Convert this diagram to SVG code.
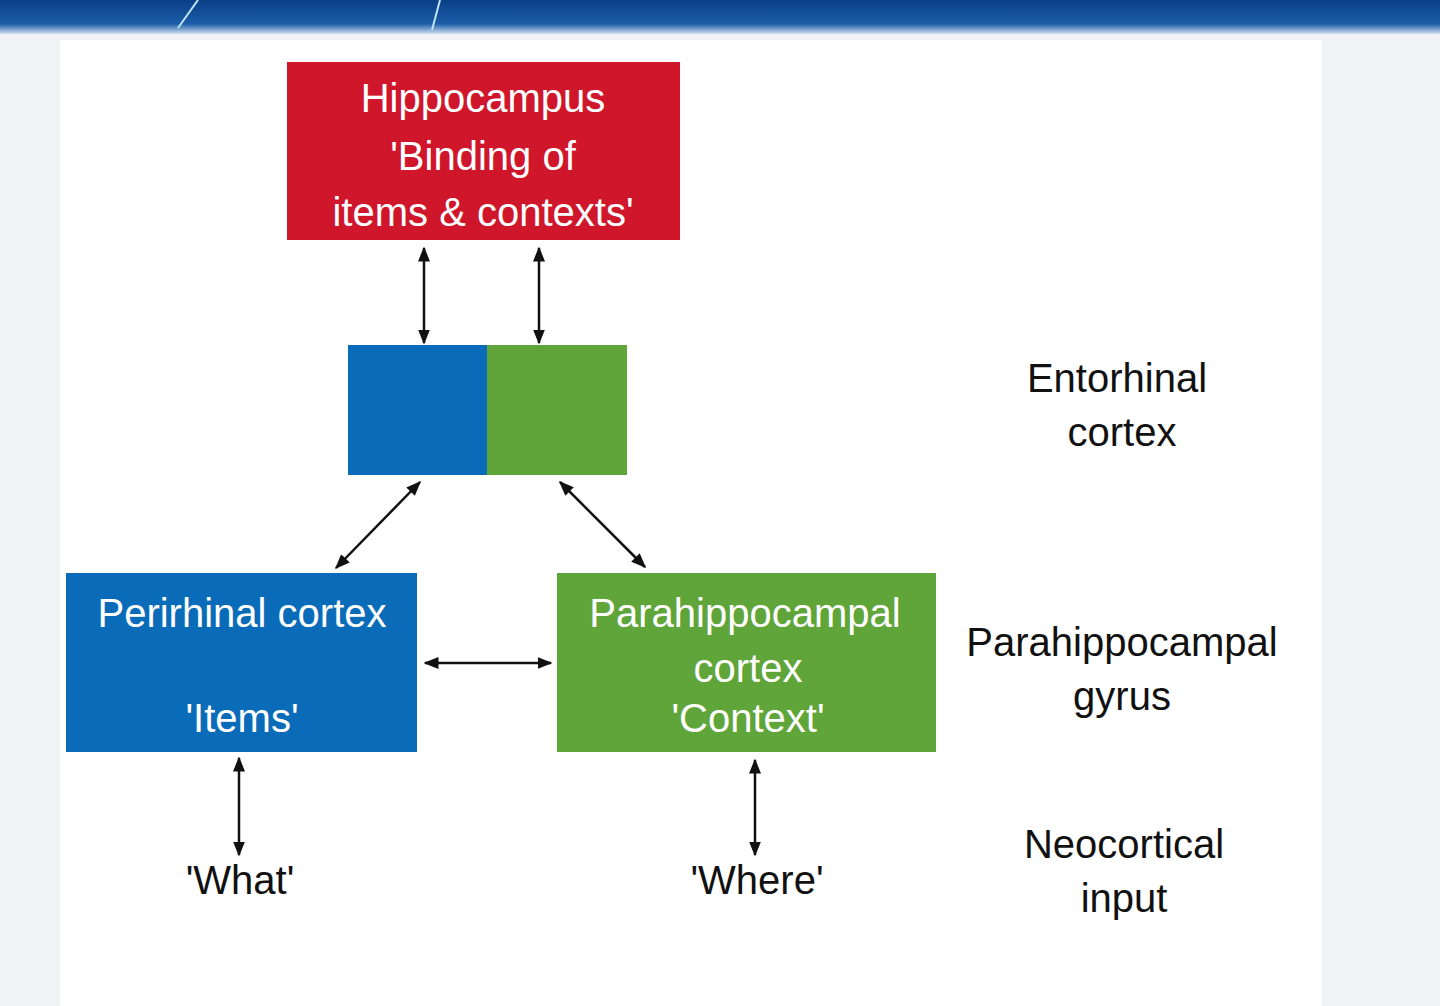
<svg xmlns="http://www.w3.org/2000/svg" width="1440" height="1006" viewBox="0 0 1440 1006">
<defs>
<linearGradient id="ban" x1="0" y1="0" x2="0" y2="1"><stop offset="0" stop-color="#0b3f86"/><stop offset="0.7" stop-color="#1a5da8"/><stop offset="1" stop-color="#cfe0f0"/></linearGradient>
<marker id="ah" viewBox="0 0 10 10" refX="9" refY="5" markerWidth="6" markerHeight="6" orient="auto-start-reverse"><path d="M0,1 L10,5 L0,9 z" fill="#111"/></marker>
<style>
.t{font-family:"Liberation Sans",Arial,sans-serif;font-size:40px;text-anchor:middle}
.w{fill:#fff}.k{fill:#111}
.c{stroke:#111;stroke-width:2.5;fill:none;marker-start:url(#ah);marker-end:url(#ah)}
</style>
</defs>
<rect width="1440" height="1006" fill="#f1f3f5"/>
<rect x="60" y="40" width="1262" height="966" fill="#fff"/>
<rect width="1440" height="34" fill="url(#ban)"/>
<path d="M178,28 L198,0 M432,30 L440,0" stroke="#bfe3f5" stroke-width="2"/>
<g id="hippocampus"><rect x="287" y="62" width="393" height="178" fill="#d0162b"/>
<text class="t w" x="483" y="112">Hippocampus</text><text class="t w" x="483" y="170">'Binding of</text><text class="t w" x="483" y="226">items &amp; contexts'</text></g>
<g id="entorhinal"><rect x="348" y="345" width="139" height="130" fill="#0a6cb8"/><rect x="487" y="345" width="140" height="130" fill="#5fa53a"/></g>
<g id="perirhinal"><rect x="66" y="573" width="351" height="179" fill="#0a6cb8"/>
<text class="t w" x="242" y="627">Perirhinal cortex</text><text class="t w" x="242" y="732">'Items'</text></g>
<g id="parahippocampal"><rect x="557" y="573" width="379" height="179" fill="#5fa53a"/>
<text class="t w" x="745" y="627">Parahippocampal</text><text class="t w" x="748" y="682">cortex</text><text class="t w" x="748" y="732">'Context'</text></g>
<g id="labels">
<text class="t k" x="1117" y="392">Entorhinal</text><text class="t k" x="1122" y="446">cortex</text>
<text class="t k" x="1122" y="656">Parahippocampal</text><text class="t k" x="1122" y="710">gyrus</text>
<text class="t k" x="1124" y="858">Neocortical</text><text class="t k" x="1124" y="912">input</text>
<text class="t k" x="240" y="894">'What'</text><text class="t k" x="757" y="894">'Where'</text>
</g>
<g id="connectors">
<line class="c" x1="424" y1="248" x2="424" y2="343"/>
<line class="c" x1="539" y1="248" x2="539" y2="343"/>
<line class="c" x1="420" y1="482" x2="336" y2="568"/>
<line class="c" x1="560" y1="482" x2="645" y2="567"/>
<line class="c" x1="425" y1="663" x2="551" y2="663"/>
<line class="c" x1="239" y1="758" x2="239" y2="855"/>
<line class="c" x1="755" y1="760" x2="755" y2="855"/>
</g>
</svg>
